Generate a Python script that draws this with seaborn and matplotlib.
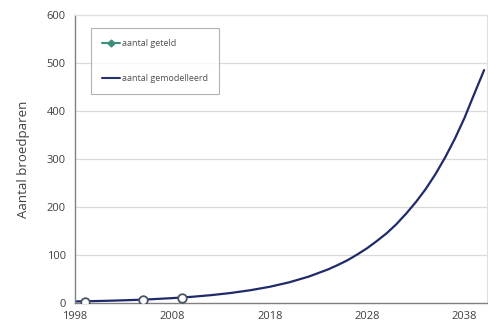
import matplotlib
matplotlib.use('Agg')
from matplotlib import pyplot as plt
from matplotlib.lines import Line2D
from matplotlib.ticker import MultipleLocator
import pandas as pd
import seaborn as sns

# observed counts (aantal geteld)
obs_years = [1999, 2005, 2009]
obs_counts = [2, 5, 11]

# modelled curve (aantal gemodelleerd)
model_years = [1998, 2000, 2002, 2004, 2006, 2008, 2010, 2012, 2014, 2016,
               2018, 2020, 2022, 2024, 2025, 2026, 2027, 2028, 2029, 2030,
               2031, 2032, 2033, 2034, 2035, 2036, 2037, 2038, 2039, 2040]
model_counts = [2.9, 3.7, 4.7, 6.0, 7.7, 9.9, 12.6, 16.1, 20.6, 26.3,
                33.5, 42.8, 54.7, 69.8, 79, 89, 101, 114, 129, 145,
                164, 186, 210, 237, 268, 303, 342, 386, 436, 485]

x_ticks = [1998, 2008, 2018, 2028, 2038]
y_ticks = [0, 100, 200, 300, 400, 500, 600]

df_model = pd.DataFrame({'jaar': model_years, 'aantal': model_counts})
df_obs = pd.DataFrame({'jaar': obs_years, 'aantal': obs_counts})

sns.set_style('white')
plt.rcParams['font.family'] = ['Open Sans', 'DejaVu Sans']

fig = plt.figure(figsize=(4.89, 3.31), dpi=100)
ax = fig.add_axes([0.153, 0.085, 0.843, 0.87])

for y in y_ticks[1:]:
    ax.axhline(y, color='#d9d9d9', lw=0.9, zorder=0)

sns.lineplot(data=df_model, x='jaar', y='aantal', color='#1f2a6b', lw=1.6, ax=ax)
sns.scatterplot(data=df_obs, x='jaar', y='aantal', marker='o', s=38,
                facecolor='white', edgecolor='#4a5566', linewidth=1.3, ax=ax, zorder=3)

ax.set_xlim(1998, 2040.3)
ax.set_ylim(0, 600)
ax.set_xticks(x_ticks)
ax.xaxis.set_minor_locator(MultipleLocator(2))
ax.set_yticks(y_ticks)
ax.tick_params(axis='both', labelsize=8, labelcolor='#404040', color='#808080',
               direction='out', length=3, width=0.8)
ax.tick_params(axis='x', which='both', direction='inout', length=4)
ax.tick_params(axis='x', which='minor', length=3, color='#808080')
ax.set_xlabel('')
ax.set_ylabel('Aantal broedparen', fontsize=9.5, color='#404040', labelpad=12)

for side in ['left', 'bottom']:
    ax.spines[side].set_color('#808080')
    ax.spines[side].set_linewidth(1.0)
for side in ['top', 'right']:
    ax.spines[side].set_color('#e0e0e0')
    ax.spines[side].set_linewidth(0.8)

handles = [
    Line2D([0], [0], color='#3a8f7a', lw=1.5, marker='D', markersize=3.5),
    Line2D([0], [0], color='#2a2f6e', lw=1.5),
]
leg = ax.legend(handles, ['aantal geteld', 'aantal gemodelleerd'],
                loc='upper left', bbox_to_anchor=(0.04, 0.955), fontsize=6.5,
                frameon=True, fancybox=False, edgecolor='#a0a0a0',
                handlelength=2.0, handletextpad=0.2, labelspacing=2.9,
                borderpad=1.2, borderaxespad=0)
leg.get_frame().set_linewidth(0.8)
for t in leg.get_texts():
    t.set_color('#505050')

fig.savefig('out.png', dpi=100)
